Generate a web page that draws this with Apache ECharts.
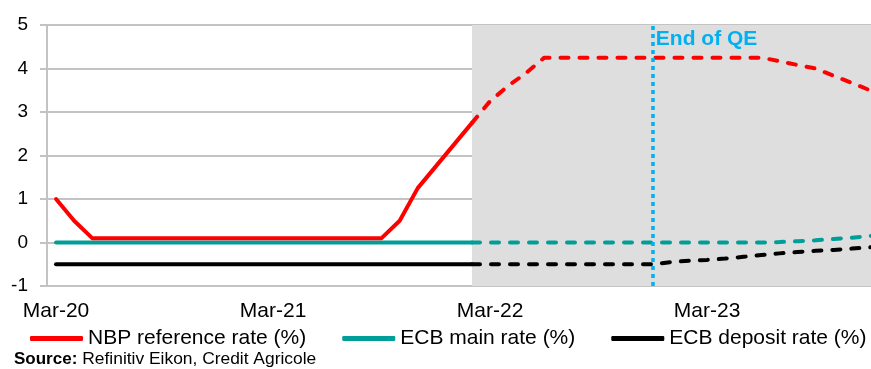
<!DOCTYPE html>
<html>
<head>
<meta charset="utf-8">
<script src="https://cdn.jsdelivr.net/npm/echarts@6/dist/echarts.min.js"></script>
<style>
html,body{margin:0;padding:0;background:#fff;}
#chart{width:871px;height:369px;}
</style>
</head>
<body>
<div id="chart"></div>
<script>
const categories = ['Mar-20','Apr-20','May-20','Jun-20','Jul-20','Aug-20','Sep-20','Oct-20','Nov-20','Dec-20',
  'Jan-21','Feb-21','Mar-21','Apr-21','May-21','Jun-21','Jul-21','Aug-21','Sep-21','Oct-21','Nov-21','Dec-21',
  'Jan-22','Feb-22','Mar-22','Apr-22','May-22','Jun-22','Jul-22','Aug-22','Sep-22','Oct-22','Nov-22','Dec-22',
  'Jan-23','Feb-23','Mar-23','Apr-23','May-23','Jun-23','Jul-23','Aug-23','Sep-23','Oct-23','Nov-23','Dec-23','Jan-24'];
const xTickLabels = ['Mar-20','Mar-21','Mar-22','Mar-23'];

// actual values Mar-20 .. Feb-22
const nbpActual = [1.0,0.5,0.1,0.1,0.1,0.1,0.1,0.1,0.1,0.1,0.1,0.1,0.1,0.1,0.1,0.1,0.1,0.1,0.1,0.5,1.25,1.75,2.25,2.75];
const ecbMainActual = [0,0,0,0,0,0,0,0,0,0,0,0,0,0,0,0,0,0,0,0,0,0,0,0];
const ecbDepActual = [-0.5,-0.5,-0.5,-0.5,-0.5,-0.5,-0.5,-0.5,-0.5,-0.5,-0.5,-0.5,-0.5,-0.5,-0.5,-0.5,-0.5,-0.5,-0.5,-0.5,-0.5,-0.5,-0.5,-0.5];

// forecast values Feb-22 .. Jan-24
const forecastStart = 'Feb-22';
const nbpForecast = [2.75,3.25,3.6,3.9,4.25,4.25,4.25,4.25,4.25,4.25,4.25,4.25,4.25,4.25,4.25,4.25,4.25,4.17,4.08,4.0,3.83,3.67,3.5,3.33];
const ecbMainForecast = [0,0,0,0,0,0,0,0,0,0,0,0,0,0,0,0,0,0.01,0.03,0.05,0.08,0.11,0.15,0.19];
const ecbDepForecast = [-0.5,-0.5,-0.5,-0.5,-0.5,-0.5,-0.5,-0.5,-0.5,-0.5,-0.5,-0.45,-0.42,-0.4,-0.37,-0.33,-0.29,-0.25,-0.22,-0.19,-0.17,-0.14,-0.11,-0.08];

const seriesNames = ['NBP reference rate (%)','ECB main rate (%)','ECB deposit rate (%)'];
const colors = ['#FF0000','#009E99','#000000'];
const qeEnd = 'Dec-22';
const qeLabel = 'End of QE';
const qeLabelY = 4.68;

const FONT = "'Liberation Sans', Arial, sans-serif";
const fcIdx = categories.indexOf(forecastStart);

function padActual(arr){
  const out = categories.map(()=>null);
  arr.forEach((v,i)=>{ out[i]=v; });
  return out;
}
function padForecast(arr){
  const out = categories.map(()=>null);
  arr.forEach((v,i)=>{ out[fcIdx+i]=v; });
  return out;
}

const dash = [8,11];
function lineSeries(name, data, color, dashed, z){
  return {
    type:'line', name:name, data:data, showSymbol:false, symbol:'none',
    connectNulls:false, z:z||2, silent:true, animation:false,
    itemStyle:{color:color},
    lineStyle:{color:color, width:4, type: dashed ? dash : 'solid', cap:'round', join:'round'}
  };
}

const chart = echarts.init(document.getElementById('chart'), null, {renderer:'canvas'});
const gridGray = '#C3C3C3';

const option = {
  animation:false,
  backgroundColor:'#fff',
  textStyle:{fontFamily:FONT},
  grid:{left:47, top:25, width:850, height:261, outerBoundsMode:'none', containLabel:false},
  title:{
    left:14, top:350, padding:0,
    text:'{b|Source:} {n|Refinitiv Eikon, Credit Agricole}',
    textStyle:{
      fontWeight:'normal',
      rich:{
        b:{fontFamily:FONT, fontWeight:'bold', fontSize:17, color:'#000'},
        n:{fontFamily:FONT, fontWeight:'normal', fontSize:17.4, color:'#000'}
      }
    }
  },
  legend:{
    left:30, top:328, width:900, padding:0,
    itemWidth:53, itemHeight:5, itemGap:36,
    data:seriesNames.map(n=>({name:n, icon:'roundRect'})),
    textStyle:{fontFamily:FONT, fontSize:21, color:'#000'}
  },
  xAxis:{
    type:'category', data:categories, boundaryGap:true,
    axisLine:{show:true, onZero:false, lineStyle:{color:gridGray, width:2}},
    axisTick:{show:false},
    splitLine:{show:false},
    axisLabel:{
      interval:(idx, val)=> xTickLabels.indexOf(val) >= 0,
      margin:15, fontFamily:FONT, fontSize:21, color:'#000'
    }
  },
  yAxis:{
    type:'value', min:-1, max:5, interval:1,
    axisLine:{show:true, lineStyle:{color:gridGray, width:2}},
    axisTick:{show:true, length:7, lineStyle:{color:gridGray, width:2}},
    splitLine:{show:true, lineStyle:{color:gridGray, width:2}},
    axisLabel:{margin:19, fontFamily:FONT, fontSize:19, color:'#000'}
  },
  series:[
    {
      type:'line', name:'__shade', data:categories.map(()=>null), z:-1, silent:true,
      markArea:{
        silent:true,
        itemStyle:{color:'#DEDEDE'},
        data:[[{xAxis:forecastStart},{xAxis:categories[categories.length-1]}]]
      }
    },
    lineSeries(seriesNames[2], padActual(ecbDepActual), colors[2], false),
    lineSeries('__dep_fc', padForecast(ecbDepForecast), colors[2], true),
    lineSeries(seriesNames[1], padActual(ecbMainActual), colors[1], false),
    lineSeries('__main_fc', padForecast(ecbMainForecast), colors[1], true),
    lineSeries(seriesNames[0], padActual(nbpActual), colors[0], false),
    lineSeries('__nbp_fc', padForecast(nbpForecast), colors[0], true),
    {
      type:'line', name:'__qe', data:categories.map(()=>null), z:5, silent:true,
      markLine:{
        silent:true, symbol:['none','none'],
        lineStyle:{color:'#00B0F0', width:3.5, type:[4,4]},
        label:{show:false},
        data:[{xAxis:qeEnd}]
      },
      markPoint:{
        silent:true, symbol:'rect', symbolSize:0,
        label:{show:true, position:'right', distance:3, formatter:qeLabel,
               fontFamily:FONT, fontWeight:'bold', fontSize:21, color:'#00B0F0'},
        data:[{coord:[qeEnd, qeLabelY]}]
      }
    }
  ]
};
chart.setOption(option);
</script>
</body>
</html>
